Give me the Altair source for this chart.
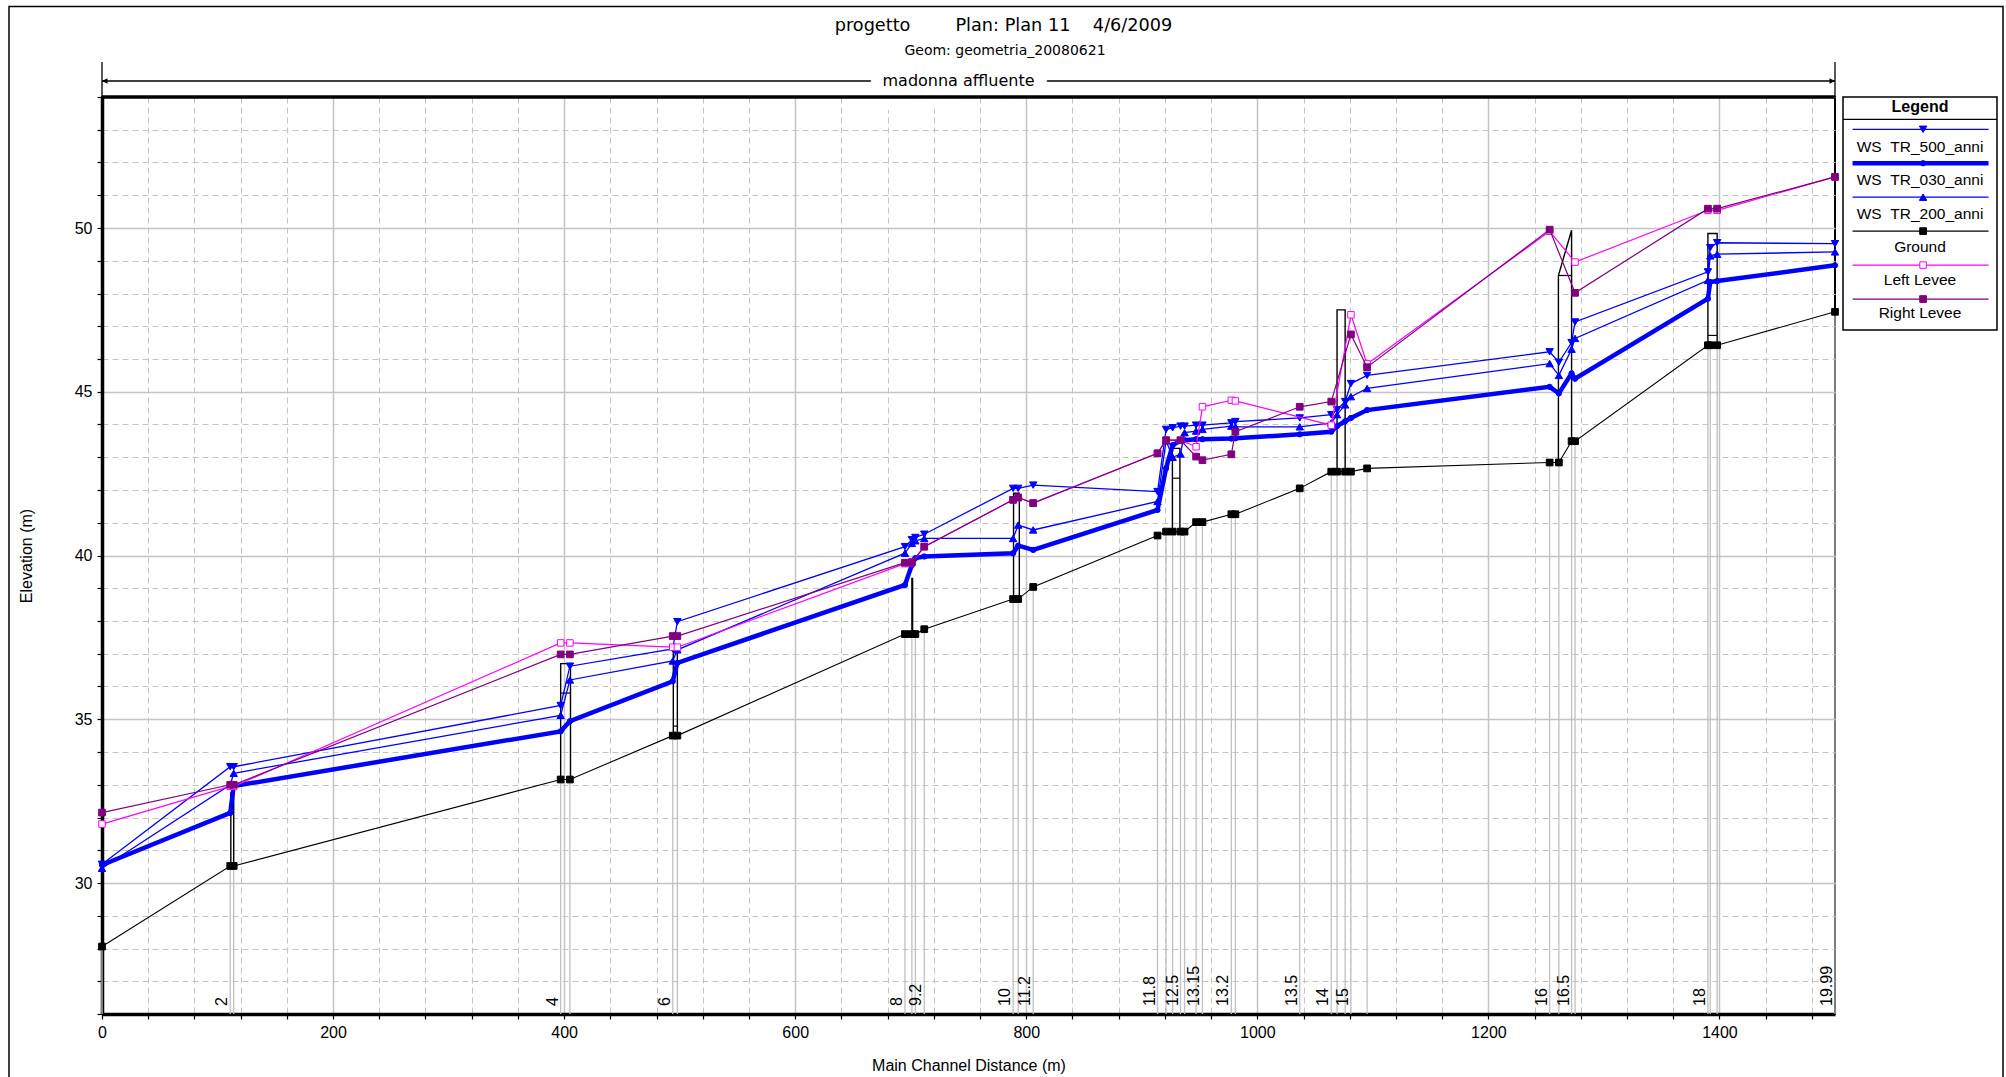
import altair as alt
import pandas as pd

NB = "\u00a0"
TITLE = "progetto" + NB * 8 + "Plan: Plan 11" + NB * 4 + "4/6/2009"
SUBTITLE = "Geom: geometria_20080621"
REACH_NAME = "madonna affluente"
X_TITLE = "Main Channel Distance (m)"
Y_TITLE = "Elevation (m)"

X_DOMAIN = [0, 1500]
Y_DOMAIN = [26, 54]
x_major_ticks = [0, 200, 400, 600, 800, 1000, 1200, 1400]
x_minor_ticks = [40, 80, 120, 160, 240, 280, 320, 360, 440, 480, 520, 560, 640, 680,
                 720, 760, 840, 880, 920, 960, 1040, 1080, 1120, 1160, 1240, 1280,
                 1320, 1360, 1440, 1480]
y_major_ticks = [30, 35, 40, 45, 50]
y_minor_ticks = [26, 27, 28, 29, 31, 32, 33, 34, 36, 37, 38, 39, 41, 42, 43, 44,
                 46, 47, 48, 49, 51, 52, 53, 54]

# cross sections (main channel distance, m)
dist = [0, 111, 114, 397, 405, 494, 498, 695, 701, 704, 711.7, 788.6, 793, 806,
        913.6, 921, 926.7, 933.5, 937, 947, 952.5, 977.5, 981, 1036.7, 1064, 1069,
        1076, 1081, 1095, 1253, 1261, 1272, 1275, 1390, 1392, 1398, 1500]
station = ["", "2", "", "4", "", "6", "", "8", "", "", "9.2", "10", "", "11.2",
           "11.8", "", "", "12.5", "", "", "13.15", "13.2", "", "13.5", "14", "", "",
           "15", "", "16", "", "16.5", "", "18", "", "", "19.99"]
ground = [28.06, 30.52, 30.52, 33.16, 33.16, 34.5, 34.5, 37.6, 37.6, 37.6, 37.75,
          38.67, 38.67, 39.04, 40.61, 40.73, 40.73, 40.73, 40.73, 41.02, 41.02, 41.26,
          41.26, 42.05, 42.56, 42.56, 42.56, 42.56, 42.66, 42.84, 42.84, 43.49, 43.49,
          46.42, 46.42, 46.42, 47.44]
ws_500 = [30.57, 33.55, 33.55, 35.42, 36.62, 37.15, 37.98, 40.27, 40.48, 40.55, 40.65,
          42.05, 42.05, 42.15, 41.95, 43.85, 43.9, 43.95, 43.95, 43.98, 43.98, 44.05,
          44.09, 44.2, 44.3, 44.45, 44.7, 45.25, 45.5, 46.22, 45.9, 46.5, 47.13,
          48.66, 49.4, 49.55, 49.52]
ws_030 = [30.55, 32.14, 32.96, 34.63, 34.94, 36.16, 36.72, 39.1, 39.71, 39.92, 39.97,
          40.07, 40.3, 40.17, 41.39, 42.66, 43.37, 43.5, 43.52, 43.55, 43.55, 43.57,
          43.58, 43.7, 43.78, 43.95, 44.1, 44.2, 44.44, 45.15, 44.95, 45.56, 45.4,
          47.84, 48.35, 48.38, 48.86]
ws_200 = [30.45, 33.0, 33.35, 35.12, 36.2, 36.78, 37.12, 40.07, 40.37, 40.45, 40.52,
          40.52, 40.93, 40.78, 41.65, 43.5, 43.0, 43.1, 43.75, 43.8, 43.85, 43.95,
          43.93, 43.93, 44.05, 44.3, 44.6, 44.85, 45.1, 45.86, 45.5, 46.3, 46.63,
          48.4, 49.15, 49.2, 49.27]
left_levee = [31.8, 32.95, 32.95, 37.33, 37.33, 37.2, 37.2, 39.75, 39.78, None, 40.27,
              41.7, 41.77, 41.6, 43.12, 43.52, None, 43.52, None, 43.32, 44.54, 44.74,
              44.72, None, 43.98, None, None, 47.35, 45.85, 49.9, None, None, 48.96,
              50.54, None, 50.54, 51.56]
right_levee = [32.15, 33.0, 33.0, 36.98, 36.98, 37.54, 37.54, 39.78, 39.8, None, 40.27,
               41.7, 41.77, 41.6, 43.12, 43.52, None, 43.52, None, 43.02, 42.91, 43.09,
               43.78, 44.54, 44.7, None, None, 46.75, 45.75, 49.95, None, None, 48.02,
               50.59, None, 50.59, 51.56]

# bridges
bridge_x_left = [111.5, 397, 494.5, 701, 789, 926.5, 1069, 1260.6, 1390]
bridge_x_right = [114, 405.5, 498, 701.6, 794, 933, 1076, 1272, 1398]
bridge_ground_left = [30.52, 33.16, 34.5, 37.6, 38.67, 40.73, 42.56, 42.84, 46.42]
bridge_ground_right = [30.52, 33.16, 34.5, 37.6, 38.67, 40.73, 42.56, 43.49, 46.42]
bridge_top_left = [32.75, 36.7, 37.07, 39.3, 41.9, 43.27, 47.5, 48.55, 49.83]
bridge_top_right = [32.75, 36.7, 37.07, 39.3, 41.9, 43.27, 47.5, 49.93, 49.83]
bridge_low_chord = [None, 35.8, 34.79, None, None, 42.36, None, 48.55, 46.72]

series_names = ["WS" + NB * 2 + "TR_500_anni", "WS" + NB * 2 + "TR_030_anni",
                "WS" + NB * 2 + "TR_200_anni", "Ground", "Left Levee", "Right Levee"]

# ---------------- styles ----------------
BLUE, BLACK, MAGENTA, PURPLE = "#0000ff", "#000000", "#ff00ff", "#800080"
GRID = "#c4c4c4"
series_colors = [BLUE, BLUE, BLUE, BLACK, MAGENTA, PURPLE]
series_widths = [1.3, 4.5, 1.3, 1.1, 1.2, 1.2]
series_shapes = ["triangle-down", "circle", "triangle-up", "square", "square", "square"]
series_fills = [BLUE, BLUE, BLUE, BLACK, "#ffffff", PURPLE]
series_sizes = [55, 28, 55, 45, 42, 45]

W, H = 1733, 917
FONT = "Liberation Sans"
TFONT = "DejaVu Sans"
REACH_Y = -16

xs = alt.Scale(domain=X_DOMAIN, nice=False, zero=False)
ys = alt.Scale(domain=Y_DOMAIN, nice=False, zero=False)
X = alt.X("dist:Q", scale=xs, axis=None)
Y = alt.Y("elev:Q", scale=ys, axis=None)

sec = pd.DataFrame({"dist": dist, "station": station, "ground": ground,
                    "base": Y_DOMAIN[0]})
one = pd.DataFrame({"k": [0]})

# ---- axes (major + minor) ----
axis_major = alt.Chart(sec).mark_point(opacity=0).encode(
    x=alt.X("dist:Q", scale=xs, title=X_TITLE, axis=alt.Axis(
        orient="bottom", values=x_major_ticks, format="d", grid=True, gridColor=GRID,
        gridWidth=1.5, domain=True, domainColor="black", domainWidth=3.5, ticks=True,
        tickSize=5, tickColor="black", tickWidth=1.2, labelFontSize=16,
        labelPadding=5, labelFlush=False, labelOverlap=False, titlePadding=17)),
    y=alt.Y("ground:Q", scale=ys, title=Y_TITLE, axis=alt.Axis(
        orient="left", values=y_major_ticks, format="d", grid=True, gridColor=GRID,
        gridWidth=1.5, domain=True, domainColor="black", domainWidth=3.5, ticks=True,
        tickSize=5, tickColor="black", tickWidth=1.2, labelFontSize=16,
        labelPadding=5, labelFlush=False, labelOverlap=False, titlePadding=40)),
)
axis_minor = alt.Chart(sec).mark_point(opacity=0).encode(
    x=alt.X("dist:Q", scale=xs, title=None, axis=alt.Axis(
        orient="bottom", values=x_minor_ticks, grid=True, gridColor=GRID,
        gridDash=[6, 4], gridWidth=1, domain=False, ticks=True, tickSize=5,
        tickColor="black", tickWidth=1.2, labels=False)),
    y=alt.Y("ground:Q", scale=ys, title=None, axis=alt.Axis(
        orient="left", values=y_minor_ticks, grid=True, gridColor=GRID,
        gridDash=[6, 4], gridWidth=1, domain=False, ticks=True, tickSize=5,
        tickColor="black", tickWidth=1.2, labels=False)),
)

# ---- section lines & labels ----
sec_lines = alt.Chart(sec).mark_rule(color="#c0c0c0", strokeWidth=1.3).encode(
    x=X, y=alt.Y("base:Q", scale=ys, axis=None), y2="ground:Q")
sec_labels = alt.Chart(sec[sec["station"] != ""]).mark_text(
    angle=270, align="left", baseline="alphabetic", dx=8, dy=-3, font=FONT,
    fontSize=16, color="black").encode(
    x=X, y=alt.Y("base:Q", scale=ys, axis=None), text="station:N")

# ---- bridges ----
br_rows = []
for i in range(len(bridge_x_left)):
    pts = [(bridge_x_left[i], bridge_ground_left[i]), (bridge_x_left[i], bridge_top_left[i]),
           (bridge_x_right[i], bridge_top_right[i]), (bridge_x_right[i], bridge_ground_right[i])]
    for k, (xx, yy) in enumerate(pts):
        br_rows.append({"bid": i, "k": k, "dist": xx, "elev": yy})
br_df = pd.DataFrame(br_rows)
bridges = alt.Chart(br_df).mark_line(color="black", strokeWidth=1.4).encode(
    x=X, y=Y, detail="bid:N", order="k:Q")
low_df = pd.DataFrame({"dist": bridge_x_left, "dist2": bridge_x_right,
                       "elev": bridge_low_chord}).dropna()
low_chords = alt.Chart(low_df).mark_rule(color="black", strokeWidth=1.2).encode(
    x=X, x2="dist2:Q", y=Y)


def series_layers(vals, idx):
    df = pd.DataFrame({"dist": dist, "elev": vals}).dropna()
    c = series_colors[idx]
    line = alt.Chart(df).mark_line(color=c, strokeWidth=series_widths[idx]).encode(x=X, y=Y)
    pts = alt.Chart(df).mark_point(
        shape=series_shapes[idx], size=series_sizes[idx], filled=True,
        fill=series_fills[idx], stroke=c, strokeWidth=1, opacity=1).encode(x=X, y=Y)
    return [line, pts]


data_layers = []
for idx, vals in enumerate([ws_500, ws_030, ws_200, ground, left_levee, right_levee]):
    data_layers += series_layers(vals, idx)

# ---- reach arrow, title, frame ----
reach = pd.DataFrame({"start": [dist[0]], "end": [dist[-1]],
                      "mid": [(dist[0] + dist[-1]) / 2], "name": [REACH_NAME]})
reach_ends = pd.DataFrame({"dist": [dist[0], dist[-1]],
                           "shape": ["M0,0L2,-1L2,1Z", "M0,0L-2,-1L-2,1Z"]})
reach_rule = alt.Chart(reach).mark_rule(color="black", strokeWidth=1.3).encode(
    x=alt.X("start:Q", scale=xs, axis=None), x2="end:Q", y=alt.value(REACH_Y))
reach_bars = alt.Chart(reach_ends).mark_rule(color="black", strokeWidth=1.3).encode(
    x=X, y=alt.value(-35), y2=alt.value(0))
reach_heads = alt.Chart(reach_ends).mark_point(filled=True, color="black", size=30,
                                               opacity=1).encode(
    x=X, y=alt.value(REACH_Y), shape=alt.Shape("shape:N", scale=None))
reach_halo = alt.Chart(reach).mark_text(
    font=TFONT, fontSize=16, stroke="white", strokeWidth=26, color="white",
    baseline="middle", dx=-10).encode(
    x=alt.X("mid:Q", scale=xs, axis=None), y=alt.value(REACH_Y), text="name:N")
reach_text = alt.Chart(reach).mark_text(
    font=TFONT, fontSize=16, color="black", baseline="middle", dx=-10).encode(
    x=alt.X("mid:Q", scale=xs, axis=None), y=alt.value(REACH_Y), text="name:N")
top_border = alt.Chart(reach).mark_rule(color="black", strokeWidth=3.5).encode(
    x=alt.X("start:Q", scale=xs, axis=None), x2="end:Q", y=alt.value(0))

title_text = alt.Chart(one).mark_text(
    text=TITLE, font=TFONT, fontSize=17.7, color="black", align="center",
    baseline="middle").encode(x=alt.value(901.5), y=alt.value(-71))
subtitle_text = alt.Chart(one).mark_text(
    text=SUBTITLE, font=TFONT, fontSize=14, color="black", align="center",
    baseline="middle").encode(x=alt.value(903), y=alt.value(-46))
frame = alt.Chart(one).mark_rect(fillOpacity=0, stroke="black", strokeWidth=1.5).encode(
    x=alt.value(-93), x2=alt.value(1901), y=alt.value(-90.5), y2=alt.value(1010))

main = alt.layer(
    axis_major, axis_minor, sec_lines, bridges, low_chords, *data_layers, sec_labels,
    reach_rule, reach_bars, reach_heads, reach_halo, reach_text, top_border,
    title_text, subtitle_text, frame,
).resolve_axis(x="independent", y="independent")

# ---- legend panel (own scales) ----
LX = alt.Scale(domain=[0, 1], range=[1741, 1895])
LY = alt.Scale(domain=[0, 7], range=[0, 233])
leg = pd.DataFrame({
    "name": series_names, "color": series_colors, "width": series_widths,
    "shape": series_shapes, "fill": series_fills, "size": series_sizes,
    "row": list(range(6)),
})
leg["ly"] = 0.97 + 1.02 * leg["row"]
leg["ty"] = 1.5 + leg["row"]
leg["x0"] = 0.062
leg["x1"] = 0.945
leg["xm"] = 0.52
leg["xt"] = 0.5
box = pd.DataFrame({"x0": [0], "x1": [1], "y0": [0], "y1": [7], "ys": [0.67],
                    "yt": [0.29], "xt": [0.5], "t": ["Legend"]})

leg_box = alt.Chart(box).mark_rect(fill="white", stroke="black", strokeWidth=1.5).encode(
    x=alt.X("x0:Q", scale=LX, axis=None), x2="x1:Q",
    y=alt.Y("y0:Q", scale=LY, axis=None), y2="y1:Q")
leg_sep = alt.Chart(box).mark_rule(color="black", strokeWidth=1.2).encode(
    x=alt.X("x0:Q", scale=LX, axis=None), x2="x1:Q",
    y=alt.Y("ys:Q", scale=LY, axis=None))
leg_title = alt.Chart(box).mark_text(font=FONT, fontSize=16, fontWeight="bold",
                                     color="black", baseline="middle").encode(
    x=alt.X("xt:Q", scale=LX, axis=None), y=alt.Y("yt:Q", scale=LY, axis=None),
    text="t:N")
leg_lines = alt.Chart(leg).mark_rule().encode(
    x=alt.X("x0:Q", scale=LX, axis=None), x2="x1:Q",
    y=alt.Y("ly:Q", scale=LY, axis=None),
    color=alt.Color("color:N", scale=None),
    strokeWidth=alt.StrokeWidth("width:Q", scale=None))
leg_marks = alt.Chart(leg).mark_point(filled=True, opacity=1, strokeWidth=1).encode(
    x=alt.X("xm:Q", scale=LX, axis=None), y=alt.Y("ly:Q", scale=LY, axis=None),
    shape=alt.Shape("shape:N", scale=None), fill=alt.Fill("fill:N", scale=None),
    stroke=alt.Stroke("color:N", scale=None), size=alt.Size("size:Q", scale=None))
leg_text = alt.Chart(leg).mark_text(font=FONT, fontSize=15.5, color="black",
                                    baseline="middle").encode(
    x=alt.X("xt:Q", scale=LX, axis=None), y=alt.Y("ty:Q", scale=LY, axis=None),
    text="name:N")
legend = alt.layer(leg_box, leg_sep, leg_title, leg_lines, leg_marks, leg_text)

chart = alt.layer(main, legend).resolve_scale(
    x="independent", y="independent"
).properties(
    width=W, height=H,
    autosize=alt.AutoSizeParams(type="none"),
    padding={"left": 102, "top": 97, "right": 171, "bottom": 63},
).configure_view(
    stroke="black", strokeWidth=2
).configure_axis(
    labelFont=FONT, titleFont=FONT, labelColor="black", titleColor="black",
    titleFontSize=16, titleFontWeight="normal"
)

chart.save("out.html", embed_options={"renderer": "svg", "actions": False})
